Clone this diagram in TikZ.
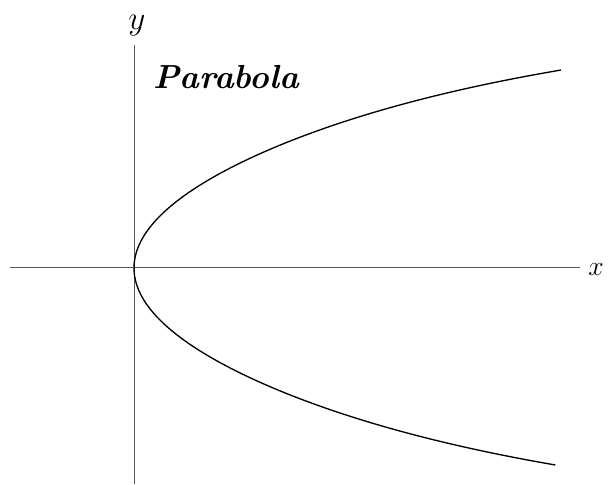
\documentclass[tikz,border=0pt]{standalone}
\usepackage{amsmath,amssymb}
\usepackage{tikz}
\usetikzlibrary{positioning,calc}

\begin{document}
\begin{tikzpicture}[x=0.75pt,y=-0.75pt,
  axis/.style={line width=0.75pt,black!65},
  curve/.style={line width=1pt,black},
  lbl/.style={inner sep=0pt,font=\fontsize{24}{28}\selectfont}]
\useasboundingbox (0,0) rectangle (608,485);
\draw[axis] (10,268) -- (580,268) coordinate (xend);
\draw[axis] (134,484) -- (134,45) coordinate (yend);
\node[lbl,anchor=base west,font=\fontsize{22}{26}\selectfont] (xlabel) at (588,276) {$x$};
\node[lbl,anchor=base] (ylabel) at (137,30) {$y$};
\node[lbl,anchor=base west,font=\fontsize{25}{29}\selectfont\bfseries\itshape] (title) at (153,89) {Parabola};
% x = 134 + 96 u^2 + small u^8 term, u = (268-y)/100
\draw[curve] plot[domain=-1.97:1.98,samples=121,smooth]
  ({134+96*\x*\x+0.215*(\x*\x)^4},{268-100*\x});
\end{tikzpicture}
\end{document}
